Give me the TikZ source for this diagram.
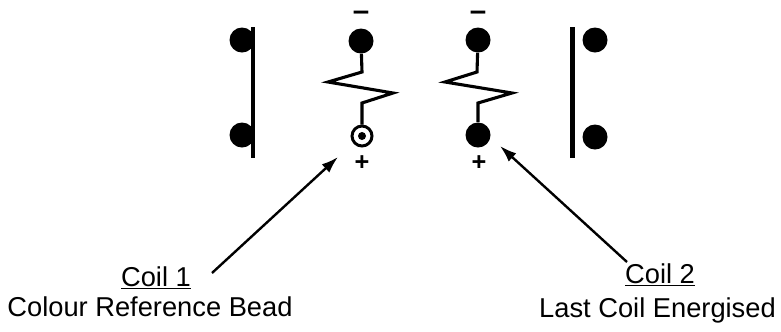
\documentclass[tikz,border=0pt]{standalone}
\usepackage{fontspec}
\setmainfont{Liberation Sans}
\usetikzlibrary{arrows.meta}

\tikzset{
  bead/.style={circle,fill,inner sep=0pt,minimum size=0.625cm},
  refbead/.style={circle,draw,line width=2.1pt,inner sep=0pt,minimum size=0.5cm},
  bar/.style={line width=3.5pt},
  coil/.style={line width=2.2pt,line join=miter},
  pointer/.style={line width=1.7pt,-{Latex[length=0.42cm,width=0.28cm]}},
  sign/.style={font=\fontsize{18}{20}\selectfont\bfseries,anchor=base,inner sep=0pt},
  minus/.style={sign,font=\fontsize{21}{23}\selectfont\bfseries},
  label/.style={font=\fontsize{19.4}{23}\selectfont,anchor=base,inner sep=0pt}
}

\begin{document}
\begin{tikzpicture}[x=0.025cm,y=-0.025cm]
\useasboundingbox (0,0) rectangle (781,331);

% left contact
\draw[bar] (253,27) -- (253,158);
\node[bead] (lefttop) at (242,40) {};
\node[bead] (leftbot) at (242,135) {};

% coil 1
\node[minus] (c1minus) at (361,20) {–};
\node[bead] (c1top) at (361,41) {};
\node[refbead] (c1bot) at (362,136) {};
\fill (c1bot) circle (0.1cm);
\draw[coil] (c1top) -- (362,72) -- (328,82) -- (393,93) -- (362,103) -- (c1bot);
\node[sign] (c1plus) at (362,170) {+};

% coil 2
\node[minus] (c2minus) at (478,20) {–};
\node[bead] (c2top) at (478,40) {};
\node[bead] (c2bot) at (478,135) {};
\draw[coil] (c2top) -- (477,72) -- (445,82) -- (512,93) -- (478,103) -- (c2bot);
\node[sign] (c2plus) at (479,170) {+};

% right contact
\draw[bar] (572.5,27) -- (572.5,158);
\node[bead] (righttop) at (595,40) {};
\node[bead] (rightbot) at (595,137) {};

% labels
\node[label] (coil1) at (156,286) {\underline{Coil 1}};
\node[label] (bead1) at (150,316) {Colour Reference Bead};
\node[label] (coil2) at (660,283) {\underline{Coil 2}};
\node[label] (last2) at (657.5,317) {Last Coil Energised};

% arrows
\coordinate (tail1) at (212,273);
\coordinate (tip1) at (338,157);
\draw[pointer] (tail1) -- (tip1);
\coordinate (tail2) at (627,262);
\coordinate (tip2) at (500,146);
\draw[pointer] (tail2) -- (tip2);
\end{tikzpicture}
\end{document}
